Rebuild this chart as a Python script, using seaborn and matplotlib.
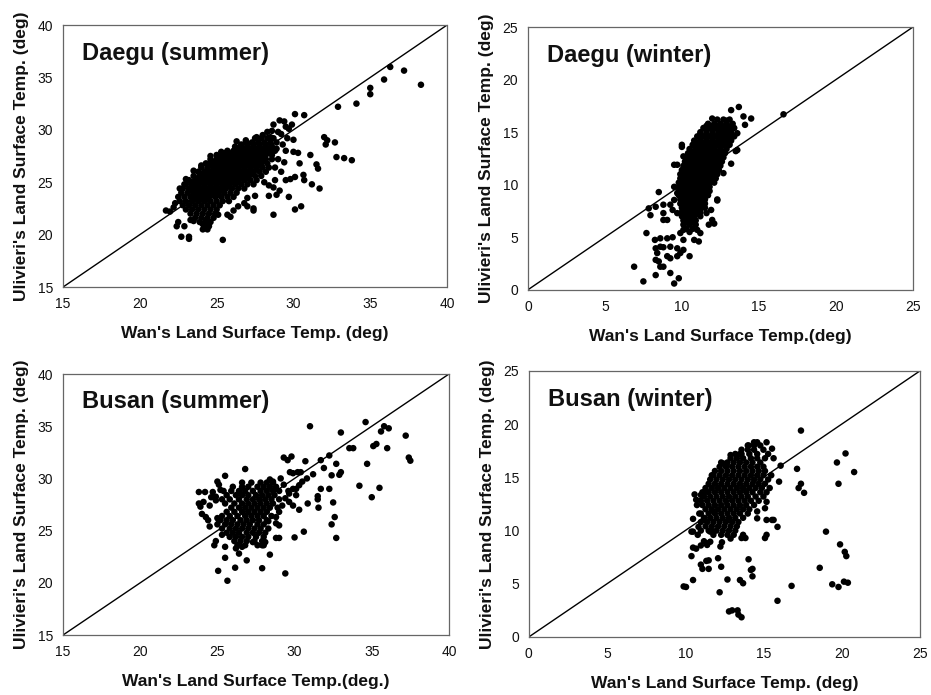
import numpy as np
import pandas as pd
import matplotlib
matplotlib.use("Agg")
import matplotlib.pyplot as plt
import seaborn as sns

sns.set_theme(style="white")
plt.rcParams['font.family'] = ['Liberation Sans', 'DejaVu Sans']

# ---------------- Data ----------------
titles = ["Daegu (summer)", "Daegu (winter)", "Busan (summer)", "Busan (winter)"]
xlabels = ["Wan's Land Surface Temp. (deg)", "Wan's Land Surface Temp.(deg)",
           "Wan's Land Surface Temp.(deg.)", "Wan's Land Surface Temp. (deg)"]
ylabel = "Ulivieri's Land Surface Temp. (deg)"
summer_ticks = [15, 20, 25, 30, 35, 40]
winter_ticks = [0, 5, 10, 15, 20, 25]

# Daegu summer: dense core rows {y: [x, ...]}
daegu_summer_core = {
    29.2: [27.5, 27.9, 28.3, 28.7],
    28.8: [26.9, 27.3, 27.7, 28.1, 28.5, 28.9],
    28.4: [26.2, 26.6, 27.0, 27.4, 27.8, 28.2, 28.6],
    28.0: [25.7, 26.1, 26.5, 26.9, 27.3, 27.7, 28.1, 28.5, 28.8],
    27.6: [25.0, 25.4, 25.8, 26.2, 26.6, 27.0, 27.4, 27.8, 28.2, 28.6],
    27.2: [24.6, 25.0, 25.4, 25.8, 26.2, 26.6, 27.0, 27.4, 27.8, 28.2, 28.6],
    26.8: [24.3, 24.7, 25.1, 25.5, 25.9, 26.3, 26.7, 27.1, 27.5, 27.9, 28.3],
    26.4: [24.0, 24.4, 24.8, 25.2, 25.6, 26.0, 26.4, 26.8, 27.2, 27.6, 28.0, 28.4],
    26.0: [23.8, 24.2, 24.6, 25.0, 25.4, 25.8, 26.2, 26.6, 27.0, 27.4, 27.8, 28.2],
    25.6: [23.5, 23.9, 24.3, 24.7, 25.1, 25.5, 25.9, 26.3, 26.7, 27.1, 27.5, 27.9],
    25.2: [23.2, 23.6, 24.0, 24.4, 24.8, 25.2, 25.6, 26.0, 26.4, 26.8, 27.2, 27.6],
    24.8: [23.0, 23.4, 23.8, 24.2, 24.6, 25.0, 25.4, 25.8, 26.2, 26.6, 27.0, 27.4],
    24.4: [22.8, 23.2, 23.6, 24.0, 24.4, 24.8, 25.2, 25.6, 26.0, 26.4, 26.8],
    24.0: [22.7, 23.1, 23.5, 23.9, 24.3, 24.7, 25.1, 25.5, 25.9, 26.3],
    23.6: [22.9, 23.3, 23.7, 24.1, 24.5, 24.9, 25.3, 25.7, 26.1],
    23.2: [22.6, 23.0, 23.4, 23.8, 24.2, 24.6, 25.0, 25.4, 25.8],
    22.8: [22.8, 23.2, 23.6, 24.0, 24.4, 24.8, 25.2],
    22.4: [23.0, 23.4, 23.8, 24.2, 24.6, 25.0],
    22.0: [23.3, 23.7, 24.1, 24.5, 24.9],
    21.6: [23.6, 24.0, 24.4, 24.8],
    21.2: [23.9, 24.3, 24.6],
    20.8: [24.2, 24.5],
    20.5: [24.4],
}
daegu_summer_fill = {
    28.6: [26.6, 27.0, 27.4, 27.8, 28.2],
    28.2: [26.4, 26.8, 27.2, 27.6, 28.0, 28.4],
    27.8: [25.6, 26.0, 26.4, 26.8, 27.2, 27.6, 28.0, 28.4],
    27.4: [25.2, 25.6, 26.0, 26.4, 26.8, 27.2, 27.6, 28.0],
    27.0: [24.9, 25.3, 25.7, 26.1, 26.5, 26.9, 27.3, 27.7, 28.1],
    26.6: [24.6, 25.0, 25.4, 25.8, 26.2, 26.6, 27.0, 27.4, 27.8],
    26.2: [24.4, 24.8, 25.2, 25.6, 26.0, 26.4, 26.8, 27.2, 27.6],
    25.8: [24.1, 24.5, 24.9, 25.3, 25.7, 26.1, 26.5, 26.9, 27.3],
    25.4: [23.8, 24.2, 24.6, 25.0, 25.4, 25.8, 26.2, 26.6, 27.0],
    25.0: [23.6, 24.0, 24.4, 24.8, 25.2, 25.6, 26.0, 26.4],
    24.6: [23.4, 23.8, 24.2, 24.6, 25.0, 25.4, 25.8],
    24.2: [23.3, 23.7, 24.1, 24.5, 24.9, 25.3],
    23.8: [23.5, 23.9, 24.3, 24.7, 25.1],
    23.4: [23.6, 24.0, 24.4],
}
daegu_summer_x = [24.6, 25.0, 26.3, 27.6, 28.0, 28.5, 29.0, 29.4, 29.7, 29.9, 30.1, 30.7, 29.5, 29.2,
                  29.6, 30.0, 29.3, 28.9, 29.5, 30.0, 30.3, 29.0, 29.4, 30.4, 28.8, 29.2, 29.5, 29.8,
                  30.1, 30.65, 30.7, 28.8, 28.4, 28.1, 28.7, 29.1, 28.4, 28.9, 29.7, 27.5, 27.0, 26.8,
                  27.0, 27.4, 27.4, 26.4, 26.1, 25.9, 25.7, 25.1, 25.4, 30.1, 30.5, 28.7, 31.1, 31.5,
                  31.6, 31.2, 31.7, 32.0, 32.2, 32.1, 32.7, 32.8, 33.3, 33.8, 32.9, 34.1, 35.0, 35.0,
                  35.9, 36.3, 37.2, 38.3, 21.7, 21.96, 22.2, 22.5, 22.4, 22.9, 22.7, 23.2, 23.2, 24.1,
                  24.1, 24.3, 23.3, 23.5, 22.6, 22.9, 23.4, 24.0, 22.5, 22.3, 23.0, 23.5, 24.0, 24.6,
                  25.3, 26.3, 26.9, 28.3, 28.7, 29.1, 28.6]
daegu_summer_y = [27.5, 26.5, 28.25, 29.3, 29.5, 29.3, 29.8, 30.8, 30.1, 30.5, 31.5, 31.4, 30.3, 29.6,
                  29.2, 29.05, 28.6, 28.2, 28.0, 27.9, 27.8, 27.2, 26.9, 26.8, 26.4, 26.0, 25.2, 25.3,
                  25.5, 25.7, 25.2, 25.2, 24.7, 25.0, 24.5, 24.2, 23.7, 23.8, 23.6, 23.7, 23.5, 23.0,
                  22.7, 22.5, 22.3, 22.7, 22.3, 21.7, 21.9, 21.9, 19.5, 22.4, 22.7, 21.9, 27.6, 26.7,
                  26.3, 24.8, 24.4, 29.3, 29.0, 28.6, 28.8, 27.4, 27.3, 27.1, 32.2, 32.5, 33.4, 34.0,
                  34.8, 36.0, 35.65, 34.3, 22.3, 22.2, 22.6, 21.2, 20.8, 20.8, 19.8, 19.8, 19.6, 20.5,
                  21.0, 21.4, 21.4, 21.3, 24.4, 24.8, 24.9, 25.6, 23.6, 23.0, 25.3, 26.1, 26.6, 26.9,
                  27.9, 28.9, 29.0, 29.8, 30.5, 30.9, 29.9]

# Daegu winter
daegu_winter_core = {
    16.2: [12.3, 12.7, 13.1],
    15.8: [11.7, 12.1, 12.5, 12.9, 13.3],
    15.4: [11.4, 11.8, 12.2, 12.6, 13.0, 13.4],
    15.0: [11.2, 11.6, 12.0, 12.4, 12.8, 13.2],
    14.6: [11.0, 11.4, 11.8, 12.2, 12.6, 13.0, 13.4],
    14.2: [10.8, 11.2, 11.6, 12.0, 12.4, 12.8, 13.2],
    13.8: [10.7, 11.1, 11.5, 11.9, 12.3, 12.7, 13.1],
    13.4: [10.5, 10.9, 11.3, 11.7, 12.1, 12.5, 12.9],
    13.0: [10.4, 10.8, 11.2, 11.6, 12.0, 12.4, 12.8],
    12.6: [10.3, 10.7, 11.1, 11.5, 11.9, 12.3, 12.7],
    12.2: [10.2, 10.6, 11.0, 11.4, 11.8, 12.2, 12.6],
    11.8: [10.1, 10.5, 10.9, 11.3, 11.7, 12.1, 12.5],
    11.4: [10.0, 10.4, 10.8, 11.2, 11.6, 12.0, 12.4],
    11.0: [9.9, 10.3, 10.7, 11.1, 11.5, 11.9, 12.3],
    10.6: [9.9, 10.3, 10.7, 11.1, 11.5, 11.9, 12.2],
    10.2: [9.8, 10.2, 10.6, 11.0, 11.4, 11.8, 12.1],
    9.8: [9.8, 10.2, 10.6, 11.0, 11.4, 11.8],
    9.4: [9.8, 10.2, 10.6, 11.0, 11.4, 11.8],
    9.0: [9.8, 10.2, 10.6, 11.0, 11.4, 11.7],
    8.6: [9.9, 10.3, 10.7, 11.1, 11.5],
    8.2: [9.9, 10.3, 10.7, 11.1, 11.5],
    7.8: [10.0, 10.4, 10.8, 11.2, 11.5],
    7.4: [10.0, 10.4, 10.8, 11.2],
    7.0: [10.0, 10.4, 10.8, 11.2],
    6.6: [10.1, 10.5, 10.9],
    6.2: [10.1, 10.5, 10.9],
    5.8: [10.3, 10.7],
    5.5: [10.5],
}
daegu_winter_fill = {
    15.6: [11.6, 12.0, 12.4, 12.8, 13.2],
    15.2: [11.6, 12.0, 12.4, 12.8, 13.2],
    14.8: [11.2, 11.6, 12.0, 12.4, 12.8, 13.2],
    14.4: [11.2, 11.6, 12.0, 12.4, 12.8, 13.1],
    14.0: [10.9, 11.3, 11.7, 12.1, 12.5, 12.9],
    13.6: [10.9, 11.3, 11.7, 12.1, 12.5, 12.9],
    13.2: [10.6, 11.0, 11.4, 11.8, 12.2, 12.6],
    12.8: [10.6, 11.0, 11.4, 11.8, 12.2, 12.6],
    12.4: [10.4, 10.8, 11.2, 11.6, 12.0, 12.4],
    12.0: [10.3, 10.7, 11.1, 11.5, 11.9, 12.3],
    11.6: [10.2, 10.6, 11.0, 11.4, 11.8, 12.2],
    11.2: [10.1, 10.5, 10.9, 11.3, 11.7, 12.1],
    10.8: [10.1, 10.5, 10.9, 11.3, 11.7, 12.0],
    10.4: [10.0, 10.4, 10.8, 11.2, 11.6, 12.0],
    10.0: [10.0, 10.4, 10.8, 11.2, 11.6],
    9.6: [10.0, 10.4, 10.8, 11.2, 11.6],
    9.2: [10.0, 10.4, 10.8, 11.2, 11.6],
    8.8: [10.1, 10.5, 10.9, 11.3],
    8.4: [10.1, 10.5, 10.9, 11.3],
    8.0: [10.2, 10.6, 11.0, 11.3],
    7.6: [10.2, 10.6, 11.0],
    7.2: [10.2, 10.6, 11.0],
    6.8: [10.3, 10.7],
    6.4: [10.3, 10.7],
}
daegu_winter_x = [11.97, 13.2, 13.7, 14.0, 14.5, 14.1, 16.6, 13.6, 13.6, 13.2, 12.7, 12.3, 12.1, 11.75,
                  11.2, 11.1, 10.8, 10.0, 10.1, 9.5, 9.7, 10.0, 8.5, 7.85, 7.96, 7.7, 6.9, 7.5, 9.5,
                  9.8, 9.25, 8.3, 8.6, 8.25, 8.6, 9.05, 9.4, 8.3, 8.4, 8.3, 8.5, 8.8, 9.05, 9.25, 9.7,
                  9.9, 9.25, 9.7, 8.8, 8.6, 10.1, 10.5, 10.1, 8.8, 9.05, 8.8, 9.4, 9.25, 9.5, 9.7, 9.5,
                  8.8, 8.3, 9.7, 9.9, 10.1, 11.4, 11.6, 11.97, 11.0, 11.9, 12.3, 13.5, 12.9]
daegu_winter_y = [16.3, 17.1, 17.4, 16.5, 16.3, 15.7, 16.7, 14.9, 13.3, 12.0, 11.1, 8.6, 6.3, 6.2,
                  5.4, 4.6, 4.75, 13.6, 12.7, 11.9, 11.9, 13.8, 9.3, 7.75, 7.1, 5.4, 2.2, 0.8, 0.6,
                  1.1, 1.6, 1.4, 2.2, 4.75, 4.9, 4.9, 5.0, 3.95, 3.5, 2.85, 2.7, 2.2, 3.2, 3.0, 3.2,
                  3.5, 4.1, 3.95, 4.05, 4.1, 3.8, 3.2, 4.75, 6.65, 6.65, 7.3, 7.6, 8.1, 8.55, 9.2, 9.8,
                  8.1, 7.9, 7.3, 5.4, 5.7, 7.9, 7.3, 6.65, 5.7, 7.6, 8.5, 13.2, 16.1]

# Busan summer
busan_summer_core = {
    29.6: [26.6, 27.2, 27.8, 28.2, 28.6],
    29.2: [26.0, 26.6, 27.0, 27.6, 28.0, 28.4, 28.8],
    28.8: [25.4, 25.9, 26.4, 26.8, 27.3, 27.8, 28.2, 28.6, 29.0],
    28.4: [25.6, 26.2, 26.6, 27.0, 27.5, 27.9, 28.3, 28.7],
    28.0: [25.3, 25.8, 26.4, 26.9, 27.3, 27.7, 28.1, 28.5, 29.0],
    27.6: [25.5, 26.1, 26.6, 27.0, 27.4, 27.8, 28.2, 28.6],
    27.2: [25.9, 26.4, 26.8, 27.2, 27.6, 28.0, 28.4, 28.9],
    26.8: [25.6, 26.1, 26.6, 27.0, 27.4, 27.8, 28.2],
    26.4: [25.3, 25.8, 26.3, 26.8, 27.2, 27.6, 28.0, 28.5],
    26.0: [25.2, 25.6, 26.0, 26.5, 26.9, 27.3, 27.7, 28.2],
    25.6: [25.0, 25.5, 25.9, 26.3, 26.7, 27.1, 27.6, 28.0],
    25.2: [25.3, 25.8, 26.2, 26.6, 27.0, 27.4, 27.8, 28.3],
    24.8: [25.6, 26.0, 26.4, 26.9, 27.3, 27.7, 28.1],
    24.4: [25.8, 26.2, 26.6, 27.0, 27.5, 28.0],
    24.0: [26.1, 26.5, 26.9, 27.4, 27.9],
    23.6: [26.3, 26.8, 27.6, 28.0],
}
busan_summer_fill = {}
busan_summer_x = [31.0, 34.6, 33.0, 35.8, 36.1, 35.6, 37.2, 35.3, 35.1, 36.0, 33.55, 33.8, 37.4, 37.5,
                  32.25, 31.7, 32.7, 34.7, 30.7, 31.9, 33.0, 32.9, 32.4, 34.2, 35.5, 35.0, 32.25, 31.7,
                  31.5, 31.5, 31.55, 32.5, 30.85, 32.6, 32.4, 32.7, 30.6, 30.0, 29.4, 26.8, 25.5, 25.0,
                  24.9, 23.8, 24.2, 24.7, 23.8, 24.1, 24.5, 24.9, 24.25, 24.5, 25.0, 25.1, 24.9, 25.3,
                  24.8, 25.5, 26.2, 26.4, 25.5, 25.05, 26.15, 25.65, 26.9, 27.9, 28.4, 27.9, 28.1, 28.8,
                  29.0, 26.6, 27.3, 29.3, 29.8, 29.55, 29.7, 29.9, 30.2, 30.4, 30.5, 30.3, 30.1, 29.65,
                  29.4, 29.2, 29.0, 28.8, 28.8, 29.0, 29.9, 30.1, 29.65, 29.9, 28.6, 29.1, 24.4, 23.9,
                  24.6, 25.2, 24.0, 25.1, 28.4, 29.3, 29.6, 30.8, 31.2, 28.3, 30.3]
busan_summer_y = [35.0, 35.4, 34.4, 35.0, 34.8, 34.5, 34.1, 33.3, 33.1, 32.9, 32.9, 32.9, 32.0, 31.7,
                  32.2, 31.75, 31.4, 31.4, 31.65, 31.0, 30.6, 30.35, 30.3, 29.3, 29.1, 28.2, 29.0, 29.0,
                  28.3, 28.0, 27.2, 27.7, 27.6, 26.3, 25.6, 24.3, 24.9, 24.35, 20.9, 30.9, 30.25, 29.7,
                  28.25, 28.7, 28.7, 28.7, 27.6, 27.75, 27.4, 27.9, 26.3, 25.4, 26.2, 26.0, 24.0, 24.6,
                  23.6, 23.45, 23.3, 22.8, 22.4, 21.15, 21.45, 20.2, 22.15, 21.4, 22.7, 23.6, 23.9, 24.3,
                  24.3, 23.45, 23.9, 32.0, 32.1, 31.75, 30.6, 30.5, 30.6, 30.6, 29.7, 29.35, 29.0, 28.55,
                  28.1, 27.4, 26.8, 26.3, 25.7, 25.5, 29.0, 28.4, 27.75, 27.4, 29.7, 30.0, 26.0, 27.3,
                  28.2, 28.9, 26.6, 29.4, 29.9, 29.4, 28.8, 30.0, 30.4, 25.9, 27.0]

# Busan winter
busan_winter_core = {
    18.0: [14.0, 14.4, 14.8],
    17.6: [13.6, 14.0, 14.4, 15.0],
    17.2: [13.2, 13.6, 14.1, 14.6, 15.3],
    16.8: [12.9, 13.3, 13.7, 14.2, 14.6, 15.1],
    16.4: [12.3, 12.7, 13.1, 13.5, 13.9, 14.3, 14.8],
    16.0: [12.2, 12.6, 13.0, 13.4, 13.8, 14.2, 14.6, 15.0],
    15.6: [11.9, 12.3, 12.7, 13.1, 13.5, 13.9, 14.3, 14.7, 15.1],
    15.2: [11.8, 12.2, 12.6, 13.0, 13.4, 13.8, 14.2, 14.6, 15.0, 15.5],
    14.8: [11.6, 12.0, 12.4, 12.8, 13.2, 13.6, 14.0, 14.4, 14.8, 15.3],
    14.4: [11.5, 11.9, 12.3, 12.7, 13.1, 13.5, 13.9, 14.3, 14.7, 15.1],
    14.0: [11.3, 11.7, 12.1, 12.5, 12.9, 13.3, 13.7, 14.1, 14.5, 14.9, 15.4],
    13.6: [11.1, 11.5, 11.9, 12.3, 12.7, 13.1, 13.5, 13.9, 14.3, 14.8, 15.2],
    13.2: [11.2, 11.6, 12.0, 12.4, 12.8, 13.2, 13.6, 14.0, 14.5, 15.0],
    12.8: [11.0, 11.4, 11.8, 12.2, 12.6, 13.0, 13.4, 13.8, 14.2, 14.7],
    12.4: [11.1, 11.5, 11.9, 12.3, 12.7, 13.1, 13.5, 13.9, 14.4],
    12.0: [11.3, 11.7, 12.1, 12.5, 12.9, 13.3, 13.7, 14.1],
    11.6: [11.0, 11.5, 11.9, 12.3, 12.7, 13.1, 13.5, 14.0],
    11.2: [11.2, 11.6, 12.0, 12.4, 12.8, 13.2, 13.7],
    10.8: [11.0, 11.4, 11.8, 12.2, 12.6, 13.0, 13.4],
    10.4: [11.3, 11.7, 12.1, 12.5, 12.9, 13.3],
    10.0: [11.5, 12.0, 12.4, 12.8, 13.2],
    9.6: [11.8, 12.3, 12.7, 13.1, 13.7],
}
busan_winter_fill = {}
busan_winter_x = [17.4, 19.7, 20.25, 20.8, 19.8, 17.15, 17.4, 17.25, 17.6, 19.0, 19.9, 20.2, 20.3, 18.6,
                  19.4, 19.8, 20.15, 20.4, 16.8, 15.9, 14.3, 14.2, 14.3, 14.05, 13.5, 13.7, 12.7, 12.2,
                  12.8, 13.0, 13.35, 13.4, 13.6, 9.9, 10.05, 10.5, 10.4, 11.0, 11.1, 11.5, 11.5, 11.35,
                  12.1, 12.3, 10.5, 10.7, 10.4, 15.1, 15.2, 15.9, 15.2, 15.55, 15.65, 14.6, 14.6, 15.1,
                  15.2, 16.0, 16.1, 15.65, 15.55, 15.2, 14.4, 14.6, 14.05, 13.3, 13.5, 12.9, 12.45,
                  12.65, 11.7, 11.2, 11.0, 10.75, 11.2, 10.85, 10.5, 11.6, 11.8, 11.6, 11.4, 12.25,
                  12.35, 12.9, 13.6, 13.85, 10.6, 10.7, 10.9, 10.5, 11.0, 10.8, 11.2, 11.0, 11.4]
busan_winter_y = [19.4, 16.4, 17.25, 15.5, 14.4, 15.8, 14.4, 14.0, 13.55, 9.9, 8.7, 8.0, 7.6, 6.5,
                  4.95, 4.7, 5.2, 5.1, 4.8, 3.4, 6.4, 6.3, 5.7, 7.3, 5.35, 5.05, 5.4, 4.2,
                  2.4, 2.5, 2.5, 2.1, 1.85, 4.75, 4.7, 5.35, 7.6, 6.8, 6.4, 6.4, 7.2, 7.15,
                  7.4, 6.6, 8.4, 8.3, 9.9, 9.3, 9.6, 10.35, 11.0, 11.0, 11.0, 11.15, 11.8, 12.1,
                  12.7, 14.6, 16.1, 16.8, 17.7, 18.3, 18.3, 18.3, 18.0, 17.1, 17.2, 17.1, 16.3,
                  16.15, 15.2, 13.5, 13.35, 12.4, 11.1, 10.35, 9.9, 9.9, 9.9, 8.95, 8.65, 8.5,
                  8.9, 9.25, 9.3, 9.3, 13.4, 12.9, 11.6, 11.1, 10.0, 9.6, 9.0, 8.6, 8.8]


def build(core, fill, xs, ys):
    cx, cy = [], []
    for rows in (core, fill):
        for yv, xlist in rows.items():
            for xv in xlist:
                cx.append(xv)
                cy.append(yv)
    return pd.DataFrame({"x": cx + list(xs), "y": cy + list(ys)})


panels = [
    (build(daegu_summer_core, daegu_summer_fill, daegu_summer_x, daegu_summer_y), summer_ticks),
    (build(daegu_winter_core, daegu_winter_fill, daegu_winter_x, daegu_winter_y), winter_ticks),
    (build(busan_summer_core, busan_summer_fill, busan_summer_x, busan_summer_y), summer_ticks),
    (build(busan_winter_core, busan_winter_fill, busan_winter_x, busan_winter_y), winter_ticks),
]

# ---------------- Figure ----------------
fig = plt.figure(figsize=(9.31, 6.95), dpi=100)
rects = [
    [0.0677, 0.587, 0.4125, 0.377],
    [0.567, 0.583, 0.4135, 0.378],
    [0.0677, 0.0863, 0.4145, 0.3755],
    [0.568, 0.0835, 0.420, 0.3827],
]

for i, ((df, ticks), rect) in enumerate(zip(panels, rects)):
    ax = fig.add_axes(rect)
    lo, hi = ticks[0], ticks[-1]
    ax.plot([lo, hi], [lo, hi], color="black", lw=1.0, zorder=1)
    sns.scatterplot(data=df, x="x", y="y", ax=ax, color="black", s=22,
                    linewidth=0, edgecolor="none", zorder=2, legend=False)
    ax.set_xlim(lo, hi)
    ax.set_ylim(lo, hi)
    ax.set_xticks(ticks)
    ax.set_yticks(ticks)
    ax.set_xticklabels([str(t) for t in ticks], fontsize=10)
    ax.set_yticklabels([str(t) for t in ticks], fontsize=10)
    ax.tick_params(axis="both", length=3, width=0.8, color="#555555", pad=4, labelcolor="#111111")
    ax.tick_params(axis="y", direction="out")
    ax.tick_params(axis="x", direction="out")
    for sp in ax.spines.values():
        sp.set_visible(True)
        sp.set_color("#666666")
        sp.set_linewidth(0.9)
        sp.set_linestyle((0, (3, 1)))
    ax.set_xlabel(xlabels[i], fontsize=12.5, fontweight="bold", labelpad=11, color="#111111")
    ax.set_ylabel(ylabel, fontsize=12.5, fontweight="bold", labelpad=6, color="#111111")
    ax.text(0.05, 0.893, titles[i], transform=ax.transAxes, fontsize=17,
            fontweight="bold", va="center", ha="left", color="#111111")
    ax.grid(False)
    ax.set_facecolor("white")

fig.savefig("out.png", dpi=100, facecolor="white")
